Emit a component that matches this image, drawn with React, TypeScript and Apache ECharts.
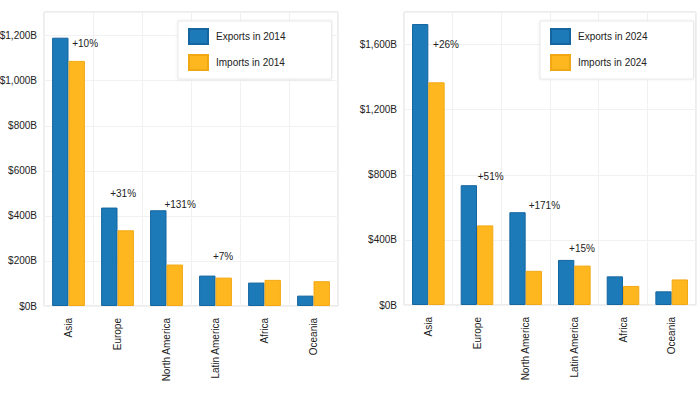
import React, { useEffect, useRef } from "react";
import * as echarts from "echarts";

const regions = ["Asia", "Europe", "North America", "Latin America", "Africa", "Oceania"];

const exports2014 = [1191, 437, 425, 135, 104, 46];
const imports2014 = [1088, 336, 184, 126, 116, 110];
const change2014 = ["+10%", "+31%", "+131%", "+7%", "", ""];

const exports2024 = [1726, 736, 570, 277, 176, 84];
const imports2024 = [1368, 489, 210, 242, 117, 157];
const change2024 = ["+26%", "+51%", "+171%", "+15%", "", ""];

const yTicks2014 = { max: 1305, interval: 200 };
const yTicks2024 = { max: 1800, interval: 400 };

// label placement (pixels relative to the exports bar's top-left corner)
const labelPos2014: number[][] = [[33, 6], [22, -14], [30, -6], [24, -19], [0, 0], [0, 0]];
const labelPos2024: number[][] = [[34, 20], [30, -9], [35, -7], [24, -11], [0, 0], [0, 0]];

const BLUE = "#1b7ab7";
const BLUE_BORDER = "#1566a0";
const ORANGE = "#feb71f";
const ORANGE_BORDER = "#f2a814";
const FONT = "'Liberation Sans', Arial, Helvetica, sans-serif";
const TEXT = "#222222";
const FS = 10;

function money(v: number) {
  return "$" + v.toLocaleString("en-US") + "B";
}

export default function App() {
  const ref = useRef<HTMLDivElement>(null);

  useEffect(() => {
    if (!ref.current) return;
    const chart = echarts.init(ref.current, undefined, { renderer: "svg" });

    const grids = [
      { left: 44, top: 12, width: 294, height: 294 },
      { left: 404, top: 12, width: 292, height: 293 },
    ];

    const xAxis = grids.map((_, gi) => ({
      type: "category",
      gridIndex: gi,
      data: regions,
      boundaryGap: true,
      axisLine: { show: false },
      axisTick: { show: false },
      axisLabel: {
        rotate: 90,
        margin: 12,
        fontSize: FS,
        color: TEXT,
        fontFamily: FONT,
        interval: 0,
      },
      splitLine: { show: true, interval: 0, lineStyle: { color: "#f1f1f1", width: 1 } },
    }));

    const yConf = [yTicks2014, yTicks2024];
    const yAxis = yConf.map((c, gi) => ({
      type: "value",
      gridIndex: gi,
      min: 0,
      max: c.max,
      interval: c.interval,
      axisLine: { show: false },
      axisTick: { show: false },
      axisLabel: {
        margin: 7,
        fontSize: FS,
        color: TEXT,
        fontFamily: FONT,
        showMaxLabel: false,
        formatter: (v: number) => money(v),
      },
      splitLine: { show: true, lineStyle: { color: "#f1f1f1", width: 1 } },
    }));

    const makeExports = (vals: number[], texts: string[], pos: number[][]) =>
      vals.map((v, i) => ({
        value: v,
        label: {
          show: texts[i] !== "",
          formatter: texts[i],
          position: pos[i],
          align: "center",
          verticalAlign: "middle",
        },
      }));

    const barCommon = {
      type: "bar",
      barGap: "0%",
      barCategoryGap: "33%",
      label: {
        fontSize: FS,
        color: TEXT,
        fontFamily: FONT,
      },
    };

    const series = [
      {
        ...barCommon,
        name: "Exports in 2014",
        xAxisIndex: 0,
        yAxisIndex: 0,
        data: makeExports(exports2014, change2014, labelPos2014),
        itemStyle: { color: BLUE, borderColor: BLUE_BORDER, borderWidth: 1 },
      },
      {
        ...barCommon,
        name: "Imports in 2014",
        xAxisIndex: 0,
        yAxisIndex: 0,
        data: imports2014,
        itemStyle: { color: ORANGE, borderColor: ORANGE_BORDER, borderWidth: 1 },
      },
      {
        ...barCommon,
        name: "Exports in 2024",
        xAxisIndex: 1,
        yAxisIndex: 1,
        data: makeExports(exports2024, change2024, labelPos2024),
        itemStyle: { color: BLUE, borderColor: BLUE_BORDER, borderWidth: 1 },
      },
      {
        ...barCommon,
        name: "Imports in 2024",
        xAxisIndex: 1,
        yAxisIndex: 1,
        data: imports2024,
        itemStyle: { color: ORANGE, borderColor: ORANGE_BORDER, borderWidth: 1 },
      },
    ];

    const legendCommon = {
      orient: "vertical",
      itemWidth: 19,
      itemHeight: 15,
      itemGap: 9,
      padding: [7, 46, 8, 10],
      backgroundColor: "#ffffff",
      borderColor: "#e8e8e8",
      borderWidth: 1,
      shadowBlur: 3,
      shadowColor: "rgba(0,0,0,0.08)",
      icon: "rect",
      textStyle: { fontSize: FS, color: TEXT, fontFamily: FONT, padding: [0, 0, 0, 3] },
      selectedMode: false,
    };

    chart.setOption({
      animation: false,
      backgroundColor: "#ffffff",
      textStyle: { fontFamily: FONT },
      grid: grids.map((g) => ({
        ...g,
        show: true,
        borderColor: "#dadada",
        borderWidth: 1,
        backgroundColor: "transparent",
        containLabel: false,
        outerBoundsMode: "none",
      })),
      xAxis,
      yAxis,
      legend: [
        { ...legendCommon, left: 178, top: 21, data: ["Exports in 2014", "Imports in 2014"] },
        { ...legendCommon, left: 540, top: 21, data: ["Exports in 2024", "Imports in 2024"] },
      ],
      series,
    });

    return () => chart.dispose();
  }, []);

  return (
    <div
      ref={ref}
      style={{ position: "fixed", left: 0, top: 0, width: 700, height: 394, background: "#fff" }}
    />
  );
}
